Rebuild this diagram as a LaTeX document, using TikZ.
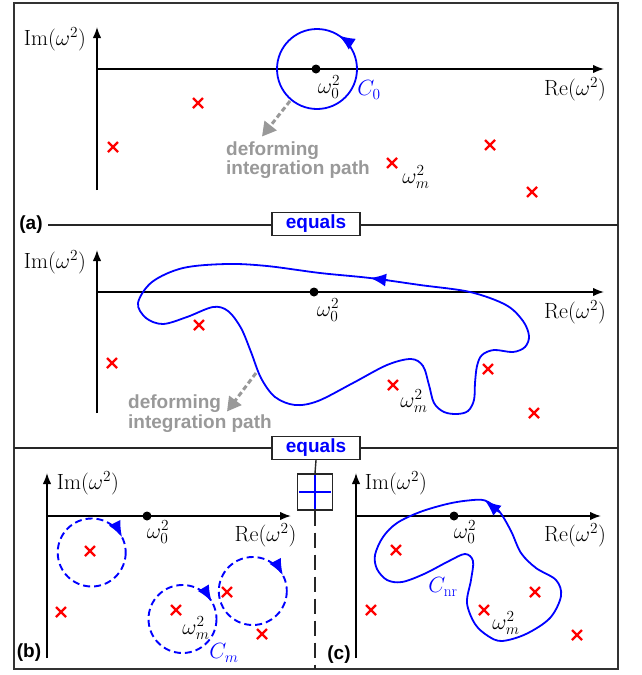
\RequirePackage{fix-cm}
\documentclass[tikz,border=0pt]{standalone}
\usepackage{fontspec}
\setsansfont{Liberation Sans}
\usetikzlibrary{arrows.meta}
\begin{document}
\begin{tikzpicture}[x=1pt,y=-1pt,
  frameline/.style={draw=black!80, line width=1.8pt},
  sepline/.style={draw=black!85, line width=1.6pt},
  axis/.style={line width=1.6pt, -{Latex[length=11pt,width=8.5pt]}},
  mlbl/.style={font=\fontsize{22}{25}\selectfont, inner sep=0pt},
  sflbl/.style={font=\sffamily\bfseries\fontsize{19}{19.5}\selectfont, inner sep=0pt},
  deform/.style={sflbl, text=black!40, align=left, anchor=north west},
  eqbox/.style={draw=black!85, line width=1.3pt, fill=white, minimum width=88pt, minimum height=23pt, inner sep=0pt, font=\sffamily\bfseries\fontsize{19}{19}\selectfont, text=blue},
  plusbox/.style={draw=black!85, line width=1.3pt, fill=white, minimum width=34.5pt, minimum height=36pt, inner sep=0pt},
  vdash/.style={draw=black!85, line width=1.4pt, dash pattern=on 15pt off 7pt},
  contour/.style={draw=blue, line width=1.8pt},
  ctip/.style={draw=blue, line width=1.8pt, -{Latex[length=16pt,width=13pt]}},
  dcirc/.style={draw=blue, line width=1.9pt, dash pattern=on 7pt off 4pt},
  gdash/.style={draw=black!40, line width=3pt, dash pattern=on 5pt off 3pt, -{Triangle[length=14pt,width=15pt]}},
  dotn/.style={circle, fill=black, inner sep=0pt, minimum size=9pt},
  polemark/.pic={\draw[red, line width=2.2pt] (-5,-5) -- (5,5) (-5,5) -- (5,-5);}
]
\useasboundingbox (0,0) rectangle (641,675);
\fill[white] (0,0) rectangle (641,675);

% outer frame
\draw[frameline] (14,3) rectangle (618,669);

% ---------------- panel (a) top
\draw[axis] (97,190) -- (97,27);
\draw[axis] (97,69) -- (604,69);
\node[mlbl] (imA) at (55,39.5) {$\mathrm{Im}(\omega^2)$};
\node[mlbl] (reA) at (575,89.5) {$\mathrm{Re}(\omega^2)$};
\draw[contour] (317,69) circle[radius=40];
\draw[ctip] (317,69) ++(-32:40) arc[start angle=-32, end angle=-57, radius=40];
\node[dotn] (w0A) at (316,69) {};
\node[mlbl] (w0lA) at (329,87) {$\omega_0^2$};
\node[mlbl, text=blue] (c0) at (369,90) {$C_0$};
\foreach \p in {(198,103),(113,147),(392,163),(490,145),(532,192)} \pic at \p {polemark};
\node[mlbl] (wmA) at (416,177) {$\omega_m^2$};
\coordinate (gA1) at (290,101);
\coordinate (gA2) at (262,136.5);
\draw[gdash] (gA1) -- (gA2);
\node[deform] (txtA) at (226,141.5) {deforming\\integration path};

% separator 1
\node[sflbl] (la) at (31,225) {(a)};
\draw[sepline] (48,225) -- (618,225);
\node[eqbox] (eqA) at (316,224) {equals};

% ---------------- panel 2
\begin{scope}[shift={(0,223)}]
\draw[axis] (97,190) -- (97,27);
\draw[axis] (97,69) -- (604,69);
\node[mlbl] (imB) at (55,39.5) {$\mathrm{Im}(\omega^2)$};
\node[mlbl] (reB) at (575,89.5) {$\mathrm{Re}(\omega^2)$};
\node[dotn] (w0B) at (314,69) {};
\node[mlbl] (w0lB) at (328,87) {$\omega_0^2$};
\foreach \p in {(199,102),(112,140),(393,162),(488,146),(534,190)} \pic at \p {polemark};
\node[mlbl] (wmB) at (414,178) {$\omega_m^2$};
\end{scope}
\draw[contour] plot[smooth cycle, tension=0.55] coordinates {
 (370,278) (320,273) (267,266) (227,264) (183,268) (152,282) (138,303)
 (146,318) (163,324) (187,317) (213,307) (228,311) (241,328) (251,352)
 (261,378) (275,397) (295,405) (318,401) (353,383) (387,365) (411,359)
 (423,366) (429,385) (434,403) (444,412) (457,414) (468,411) (474,400)
 (475,383) (477,366) (482,355) (494,350) (513,352) (525,347) (529,336)
 (523,321) (506,305) (470,292) (420,285)};
\coordinate (arB1) at (388,280.3);
\coordinate (arB2) at (370,278);
\draw[ctip] (arB1) -- (arB2);
\coordinate (gB1) at (256,373);
\coordinate (gB2) at (227,411.5);
\draw[gdash] (gB1) -- (gB2);
\node[deform] (txtB) at (128,395) {deforming\\integration path};

% separator 2
\draw[sepline] (14,448) -- (618,448);
\node[eqbox] (eqB) at (316,448) {equals};
\node[plusbox] (plus) at (315,492) {};
\draw[blue, line width=1.6pt] ([xshift=2pt]plus.west) -- ([xshift=-2pt]plus.east)
  ([yshift=-2pt]plus.north) -- ([yshift=2pt]plus.south);
\coordinate (bot) at (315,669);
\draw[vdash] (eqB.south) -- (plus.north);
\draw[vdash] (plus.south) -- (bot);

% ---------------- panel (b)
\draw[axis] (47,658) -- (47,473);
\draw[axis] (47,516) -- (291,516);
\node[mlbl] (imb) at (88,483) {$\mathrm{Im}(\omega^2)$};
\node[mlbl] (reb) at (265.5,535) {$\mathrm{Re}(\omega^2)$};
\node[dotn] (w0b) at (147,516) {};
\node[mlbl] (w0lb) at (158,532) {$\omega_0^2$};
\foreach \p in {(90,551),(61,612),(176,610),(227,592),(262,634)} \pic at \p {polemark};
\node[mlbl] (wmb) at (196,628) {$\omega_m^2$};
\draw[dcirc] (91.7,552.5) circle[radius=34];
\draw[ctip] (91.7,552.5) ++(-52:34) arc[start angle=-52, end angle=-27, radius=34];
\draw[dcirc] (182.5,619) circle[radius=34];
\draw[ctip] (182.5,619) ++(-56:34) arc[start angle=-56, end angle=-31, radius=34];
\draw[dcirc] (252.8,591) circle[radius=34];
\draw[ctip] (252.8,591) ++(-53:34) arc[start angle=-53, end angle=-28, radius=34];
\node[mlbl, text=blue] (cm) at (224,653) {$C_m$};
\node[sflbl] (lb) at (29,653) {(b)};

% ---------------- panel (c)
\draw[axis] (356,658) -- (356,473);
\draw[axis] (356,516) -- (601,516);
\node[mlbl] (imc) at (396,483) {$\mathrm{Im}(\omega^2)$};
\node[mlbl] (rec) at (575,535) {$\mathrm{Re}(\omega^2)$};
\node[dotn] (w0c) at (454,516) {};
\node[mlbl] (w0lc) at (465,532) {$\omega_0^2$};
\foreach \p in {(396,550),(371,610),(484,610),(535,592),(577,635)} \pic at \p {polemark};
\node[mlbl] (wmc) at (506,623) {$\omega_m^2$};
\draw[contour] plot[smooth cycle, tension=0.55] coordinates {
 (485,500.5) (468,500.5) (447,504) (420,512) (397,523) (383,537) (375,555)
 (377,569) (387,580) (402,582) (424,574) (449,561) (465,554) (473,561)
 (471,580) (467,603) (475,624) (488,636) (502,641) (526,634) (550,618)
 (561,596) (556,580) (536,568) (521,553) (511,531) (499,511)};
\coordinate (arC1) at (499,512);
\coordinate (arC2) at (485,500.5);
\draw[ctip] (arC1) -- (arC2);
\node[mlbl, text=blue] (cnr) at (443,587) {$C_{\mathrm{nr}}$};
\node[sflbl] (lc) at (339,655) {(c)};
\end{tikzpicture}
\end{document}
